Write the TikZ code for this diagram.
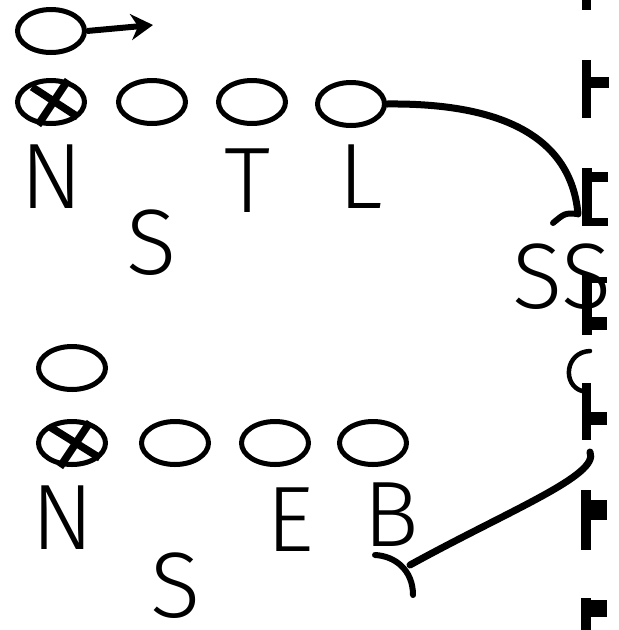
\documentclass[tikz,border=0pt]{standalone}
\usepackage{fontspec}
\setmainfont{Fira Sans Light}
\usetikzlibrary{shapes.geometric,arrows.meta}

\begin{document}
\begin{tikzpicture}[x=1pt,y=-1pt,
  man/.style={draw,ellipse,line width=5pt,minimum width=67pt,minimum height=43pt,inner sep=0pt},
  letter/.style={inner sep=0pt,font=\fontsize{93}{100}\selectfont},
  cross/.style={line width=7.5pt},
  route/.style={line width=7pt,line cap=round}]
% 619pt x 630pt, two plays, defenders at the right edge
\useasboundingbox (0,0) rectangle (619,630);

% upper play
\node[man] (mot) at (51,31) {};
\node[man] (cn1) at (51,102) {};
\node[man] (sn1) at (152,102) {};
\node[man] (tk1) at (252,102) {};
\node[man] (lt1) at (351,104) {};
\draw[cross] ([shift={(-19,-15)}]cn1.center) -- ([shift={(27,15)}]cn1.center);
\draw[cross] ([shift={(17,-22)}]cn1.center) -- ([shift={(-13,23)}]cn1.center);
\node[letter] (n1) at (52,177) {N};
\node[letter] (s1) at (152,243) {S};
\node[letter] (t1) at (248,181) {T};
\node[letter] (l1) at (361,177) {L};
\node[letter] (ss) at (562,277) {SS};

\coordinate (motend) at (153,25);
\draw[line width=6pt,-{Stealth[length=22pt,width=26pt,inset=7pt]}] (mot.east) -- (motend);
\coordinate (ltblock) at (578,214);
\coordinate (lttick) at (553,223);
\draw[route] (lt1.east) .. controls (480,103) and (570,125) .. (ltblock);
\draw[route,line width=6pt] (ltblock) .. controls (565,213) .. (lttick);

% lower play
\node[man] (set) at (72,368) {};
\node[man] (cn2) at (72,443) {};
\node[man] (sn2) at (175,443) {};
\node[man] (en2) at (275,443) {};
\node[man] (bk2) at (373,443) {};
\draw[cross] ([shift={(-22,-16)}]cn2.center) -- ([shift={(28,15)}]cn2.center);
\draw[cross] ([shift={(18,-21)}]cn2.center) -- ([shift={(-12,24)}]cn2.center);
\node[letter] (n2) at (63,518) {N};
\node[letter] (s2) at (176,586) {S};
\node[letter] (e2) at (290,520) {E};
\node[letter] (b2) at (391,515) {B};

\coordinate (bstart) at (590,452);
\coordinate (bblock) at (410,565);
\coordinate (btick1) at (375,555);
\coordinate (btick2) at (413,595);
\draw[route] (bstart) .. controls (600,475) and (510,510) .. (bblock);
\draw[route,line width=6pt] (btick1) .. controls (395,556) and (413,570) .. (btick2);

% defenders along the edge
\draw[line width=4.5pt,line cap=round] (590,351) .. controls (565,352) and (562,385) .. (582,391);
\path[fill=black] (582,0) rectangle (591,10);
\path[fill=black] (582,60) rectangle (591,118);
\path[fill=black] (590,77) rectangle (609,88);
\path[fill=black] (582,168) rectangle (592,226);
\path[fill=black] (590,172) rectangle (608,182);
\path[fill=black] (590,218) rectangle (608,226);
\path[fill=black] (582,275) rectangle (592,335);
\path[fill=black] (590,277) rectangle (607,283);
\path[fill=black] (590,317) rectangle (607,330);
\path[fill=black] (582,383) rectangle (591,440);
\path[fill=black] (590,412) rectangle (607,425);
\path[fill=black] (581,490) rectangle (591,550);
\path[fill=black] (590,500) rectangle (607,520);
\path[fill=black] (581,598) rectangle (591,630);
\path[fill=black] (590,600) rectangle (607,617);
\end{tikzpicture}
\end{document}
